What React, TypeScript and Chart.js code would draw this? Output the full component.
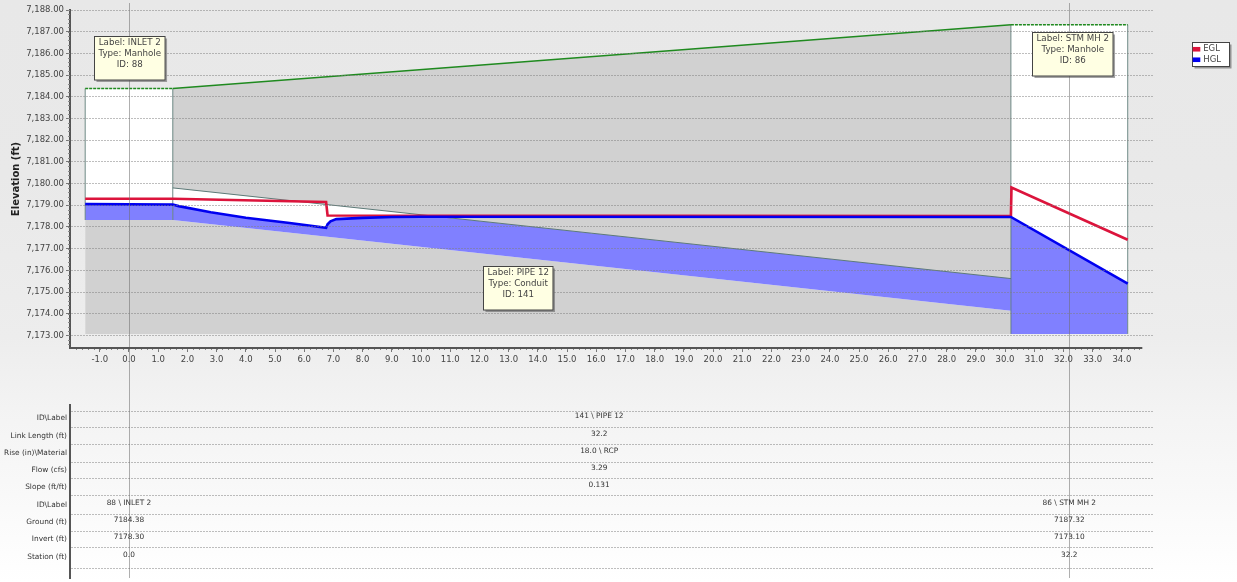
import React, { useEffect, useRef } from "react";
import { Chart, registerables } from "chart.js";

Chart.register(...registerables);

const FONT = "'DejaVu Sans', sans-serif";

const xTicks = [-1,0,1,2,3,4,5,6,7,8,9,10,11,12,13,14,15,16,17,18,19,20,21,22,23,24,25,26,27,28,29,30,31,32,33,34];
const yTicks = [7173,7174,7175,7176,7177,7178,7179,7180,7181,7182,7183,7184,7185,7186,7187,7188];

const groundStations = [-1.5, 1.5, 30.2, 34.2];
const groundElev = [7184.38, 7184.38, 7187.32, 7187.32];
const soilStations = [-1.5, 1.5, 30.2];
const soilElev = [7184.38, 7184.38, 7187.32];
const leftMhStations = [-1.5, 1.5];
const leftMhTop = [7184.38, 7184.38];
const rightMhStations = [30.2, 34.2];
const rightMhTop = [7187.32, 7187.32];
const crownStations = [1.5, 30.2];
const crownElev = [7179.8, 7175.62];
const invertElev = [7178.32, 7174.14];
const egLStations = [-1.5, 1.5, 6.75, 6.8, 30.2, 30.22, 34.2];
const eglElev = [7179.3, 7179.3, 7179.15, 7178.53, 7178.5, 7179.82, 7177.41];
const hglStations = [-1.5, 1.5, 1.7, 2.8, 4.0, 5.5, 6.75, 6.8, 6.9, 7.1, 8, 9, 10, 30.2, 34.2];
const hglElev = [7179.05, 7179.03, 7178.96, 7178.68, 7178.42, 7178.18, 7177.96, 7178.12, 7178.26, 7178.36, 7178.42, 7178.46, 7178.47, 7178.46, 7175.39];
const leftWaterStations = [-1.5, 1.5];
const leftWaterElev = [7179.05, 7179.03];
const pipeWaterStations = [1.5, 1.7, 2.8, 4.0, 5.5, 6.75, 6.8, 6.9, 7.1, 8, 9, 10, 10.7, 30.2];
const pipeWaterElev = [7179.03, 7178.96, 7178.68, 7178.42, 7178.18, 7177.96, 7178.12, 7178.26, 7178.36, 7178.42, 7178.46, 7178.47, 7178.46, 7175.62];
const rightWaterStations = [30.2, 34.2];
const rightWaterElev = [7178.46, 7175.39];
const outlineStations = [[-1.5, -1.5], [1.5, 1.5], [30.2, 30.2], [34.2, 34.2]];
const outlineElev = [[7178.32, 7184.38], [7178.32, 7184.38], [7173.07, 7187.32], [7173.07, 7187.32]];
const stationLines = [0, 32.2];

const calloutStations = [0, 13.3, 32.3];
const calloutElev = [7184.78, 7174.2, 7184.98];
const calloutLines = [
  ["Label: INLET 2", "Type: Manhole", "ID: 88"],
  ["Label: PIPE 12", "Type: Conduit", "ID: 141"],
  ["Label: STM MH 2", "Type: Manhole", "ID: 86"],
];

const rowLabels = ["ID\\Label", "Link Length (ft)", "Rise (in)\\Material", "Flow (cfs)", "Slope (ft/ft)", "ID\\Label", "Ground (ft)", "Invert (ft)", "Station (ft)"];
const pipeCells = ["141 \\ PIPE 12", "32.2", "18.0 \\ RCP", "3.29", "0.131"];
const inletCells = ["88 \\ INLET 2", "7184.38", "7178.30", "0.0"];
const outletCells = ["86 \\ STM MH 2", "7187.32", "7173.10", "32.2"];
const rowEdges = [6, 22, 39, 57, 73, 90, 109, 126, 142, 163];
const rowCenters = [11, 29, 46, 63, 80, 98, 115, 132, 150];
const labelCenters = rowCenters;

const X_MIN = -2.02;
const X_MAX = 35.1;
const AXIS_COLOR = "#555";
const TEXT = "#444";
const GRID = "rgba(125,125,125,0.5)";

const pts = (xs: number[], ys: number[]) => xs.map((x, i) => ({ x, y: ys[i] }));

function stationPlugin(top: number, bottom: number) {
  return {
    id: "stations",
    afterDatasetsDraw(chart: any) {
      const { ctx, scales } = chart;
      ctx.save();
      ctx.strokeStyle = "rgba(110,110,110,0.55)";
      ctx.lineWidth = 1;
      for (const s of stationLines) {
        const x = Math.round(scales.x.getPixelForValue(s)) + 0.5;
        ctx.beginPath();
        ctx.moveTo(x, top);
        ctx.lineTo(x, bottom);
        ctx.stroke();
      }
      ctx.restore();
    },
  };
}

const decorPlugin = {
  id: "decor",
  afterDraw(chart: any) {
    const { ctx, scales, chartArea } = chart;
    ctx.save();
    ctx.strokeStyle = "#888";
    ctx.lineWidth = 1;
    ctx.beginPath();
    for (let v = -1.8; v < 34.7; v += 0.2) {
      const x = Math.round(scales.x.getPixelForValue(v)) + 0.5;
      ctx.moveTo(x, chartArea.bottom);
      ctx.lineTo(x, chartArea.bottom + 2);
    }
    for (let v = 7172.6; v < 7188; v += 0.2) {
      const y = Math.round(scales.y.getPixelForValue(v)) + 0.5;
      ctx.moveTo(chartArea.left - 2, y);
      ctx.lineTo(chartArea.left, y);
    }
    ctx.stroke();
    ctx.strokeStyle = AXIS_COLOR;
    ctx.lineWidth = 2;
    ctx.beginPath();
    ctx.moveTo(chartArea.left - 1, chartArea.bottom);
    ctx.lineTo(scales.x.getPixelForValue(34.7), chartArea.bottom);
    ctx.stroke();
    ctx.font = `8.7px ${FONT}`;
    ctx.textAlign = "center";
    ctx.textBaseline = "middle";
    calloutLines.forEach((lines, i) => {
      const cx = scales.x.getPixelForValue(calloutStations[i]);
      const by = scales.y.getPixelForValue(calloutElev[i]);
      const w = Math.max(...lines.map((l) => ctx.measureText(l).width)) + 8;
      const h = 43.5;
      const l = Math.round(cx - w / 2) + 0.5;
      const t = Math.round(by - h) + 0.5;
      ctx.fillStyle = "rgba(90,90,90,0.55)";
      ctx.fillRect(l + 2, t + 2, w, h);
      ctx.fillStyle = "#ffffe3";
      ctx.fillRect(l, t, w, h);
      ctx.strokeStyle = "#444";
      ctx.lineWidth = 1;
      ctx.strokeRect(l, t, w, h);
      ctx.fillStyle = TEXT;
      lines.forEach((line, k) => ctx.fillText(line, l + w / 2, t + 6.5 + k * 10.8));
    });
    ctx.restore();
  },
};

const legendPlugin = {
  id: "legendBox",
  afterLayout(chart: any) {
    const lg = chart.legend;
    const dx = 1192 - lg.left;
    const dy = 43 - lg.top;
    lg.left += dx;
    lg.top += dy;
    lg.right = 1229;
    lg.bottom = 66;
    lg.adjustHitBoxes();
  },
  beforeDraw(chart: any) {
    const { ctx } = chart;
    ctx.save();
    ctx.fillStyle = "rgba(90,90,90,0.6)";
    ctx.fillRect(1194.5, 44.5, 37, 24);
    ctx.fillStyle = "#fff";
    ctx.fillRect(1192.5, 42.5, 37, 24);
    ctx.strokeStyle = "#444";
    ctx.lineWidth = 1;
    ctx.strokeRect(1192.5, 42.5, 37, 24);
    ctx.restore();
  },
};

const tablePlugin = {
  id: "tableCells",
  afterDatasetsDraw(chart: any) {
    const { ctx, scales } = chart;
    ctx.save();
    ctx.font = `7.4px ${FONT}`;
    ctx.fillStyle = "#333";
    ctx.textAlign = "center";
    ctx.textBaseline = "middle";
    const pipeMid = (stationLines[0] + stationLines[1]) / 2;
    pipeCells.forEach((t, i) => ctx.fillText(t, scales.x.getPixelForValue(pipeMid), scales.y.getPixelForValue(rowCenters[i])));
    inletCells.forEach((t, i) => ctx.fillText(t, scales.x.getPixelForValue(stationLines[0]), scales.y.getPixelForValue(rowCenters[i + 5])));
    outletCells.forEach((t, i) => ctx.fillText(t, scales.x.getPixelForValue(stationLines[1]), scales.y.getPixelForValue(rowCenters[i + 5])));
    ctx.restore();
  },
};

export default function App() {
  const topRef = useRef<HTMLCanvasElement>(null);
  const botRef = useRef<HTMLCanvasElement>(null);

  useEffect(() => {
    const hidden = { pointRadius: 0, borderWidth: 0, borderColor: "transparent", tension: 0 };
    const datasets: any[] = [
      { label: "Soil", data: pts(soilStations, soilElev), ...hidden, fill: { value: 7173.07 }, backgroundColor: "#d1d1d1" },
      { label: "MH1", data: pts(leftMhStations, leftMhTop), ...hidden, fill: { value: 7178.32 }, backgroundColor: "#ffffff" },
      { label: "MH2", data: pts(rightMhStations, rightMhTop), ...hidden, fill: { value: 7173.07 }, backgroundColor: "#ffffff" },
      { label: "Invert", data: pts(crownStations, invertElev), ...hidden, fill: false },
      { label: "Pipe", data: pts(crownStations, crownElev), ...hidden, fill: { target: 3 }, backgroundColor: "#ffffff" },
      { label: "W1", data: pts(leftWaterStations, leftWaterElev), ...hidden, fill: { value: 7178.32 }, backgroundColor: "#8080ff" },
      { label: "W2", data: pts(pipeWaterStations, pipeWaterElev), ...hidden, fill: { target: 3 }, backgroundColor: "#8080ff" },
      { label: "W3", data: pts(rightWaterStations, rightWaterElev), ...hidden, fill: { value: 7173.07 }, backgroundColor: "#8080ff" },
      { label: "Crown", data: pts(crownStations, crownElev), pointRadius: 0, borderWidth: 1, borderColor: "#5d7a78", fill: false },
      ...outlineStations.map((xs, i) => ({
        label: `Wall${i}`,
        data: pts(xs, outlineElev[i]),
        pointRadius: 0,
        borderWidth: 1,
        borderColor: "rgba(80,115,110,0.8)",
        fill: false,
      })),
      {
        label: "Ground",
        data: pts(groundStations, groundElev),
        pointRadius: 0,
        borderWidth: 1.5,
        borderColor: "#1f8a1f",
        fill: false,
        segment: {
          borderDash: (c: any) => (c.p0.parsed.x < 0 || c.p0.parsed.x > 30 ? [3, 1] : undefined),
        },
      },
      { label: "EGL", data: pts(egLStations, eglElev), pointRadius: 0, borderWidth: 2.6, borderColor: "#dc143c", backgroundColor: "#dc143c", fill: false },
      { label: "HGL", data: pts(hglStations, hglElev), pointRadius: 0, borderWidth: 2.6, borderColor: "#0000f0", backgroundColor: "#0000f0", fill: false },
    ];
    datasets.forEach((d, i) => (d.order = datasets.length - i));

    const top = new Chart(topRef.current!, {
      type: "line",
      data: { datasets },
      options: {
        animation: false,
        responsive: false,
        layout: { padding: { top: 10, right: 83, left: 10, bottom: 0 } },
        plugins: {
          tooltip: { enabled: false },
          title: { display: false },
          legend: {
            position: "chartArea" as any,
            align: "start",
            labels: {
              filter: (it: any) => it.text === "EGL" || it.text === "HGL",
              sort: (a: any, b: any) => a.text.localeCompare(b.text),
              boxWidth: 5,
              boxHeight: 2,
              padding: 2,
              color: TEXT,
              font: { family: FONT, size: 8.5 },
            },
          },
        },
        scales: {
          x: {
            type: "linear",
            min: X_MIN,
            max: X_MAX,
            afterFit: (s: any) => { s.height = 47; },
            afterBuildTicks: (s: any) => { s.ticks = xTicks.map((value) => ({ value })); },
            grid: { display: true, drawOnChartArea: false, drawTicks: true, tickLength: 4, tickColor: "#777", color: "#777" },
            border: { display: false },
            ticks: {
              autoSkip: false,
              maxRotation: 0,
              padding: 3,
              color: TEXT,
              font: { family: FONT, size: 8.5 },
              callback: (v: any) => Number(v).toFixed(1),
            },
          },
          y: {
            type: "linear",
            min: 7172.42,
            max: 7188,
            afterFit: (s: any) => { s.width = 60; },
            afterBuildTicks: (s: any) => { s.ticks = yTicks.map((value) => ({ value })); },
            grid: { z: 1, color: GRID, lineWidth: 1, tickLength: 4, tickColor: "#777", tickBorderDash: [] },
            border: { display: true, color: AXIS_COLOR, width: 2, dash: [2, 1], z: 2 },
            title: { display: true, text: "Elevation (ft)", color: "#222", font: { family: FONT, size: 10, weight: "bold" }, padding: 0 },
            ticks: {
              autoSkip: false,
              padding: 2,
              color: TEXT,
              font: { family: FONT, size: 8.5 },
              callback: (v: any) => Number(v).toLocaleString("en-US", { minimumFractionDigits: 2, maximumFractionDigits: 2 }),
            },
          },
        },
      } as any,
      plugins: [stationPlugin(3, 395), decorPlugin, legendPlugin],
    });

    const bottom = new Chart(botRef.current!, {
      type: "line",
      data: { datasets: [] },
      options: {
        animation: false,
        responsive: false,
        layout: { padding: { top: 10, right: 83, left: 0, bottom: 4 } },
        plugins: { legend: { display: false }, tooltip: { enabled: false } },
        scales: {
          x: { type: "linear", min: X_MIN, max: X_MAX, display: false },
          y: {
            type: "linear",
            reverse: true,
            min: 0,
            max: 173,
            afterFit: (s: any) => { s.width = 70; s.paddingTop = 0; s.paddingBottom = 0; },
            afterBuildTicks: (s: any) => {
              s.ticks = [...rowEdges, ...labelCenters].sort((a, b) => a - b).map((value) => ({ value }));
            },
            grid: {
              drawTicks: false,
              color: GRID,
              lineWidth: (c: any) => (rowEdges.includes(c.tick?.value) ? 1 : 0),
            },
            border: { display: true, color: AXIS_COLOR, width: 2, dash: [2, 1] },
            ticks: {
              autoSkip: false,
              padding: 3,
              labelOffset: 2,
              color: "#333",
              font: { family: FONT, size: 7.4 },
              callback: (v: any) => {
                const i = labelCenters.indexOf(Number(v));
                return i >= 0 ? rowLabels[i] : "";
              },
            },
          },
        },
      } as any,
      plugins: [stationPlugin(0, 183), tablePlugin],
    });

    return () => {
      top.destroy();
      bottom.destroy();
    };
  }, []);

  return (
    <div
      style={{
        position: "absolute",
        left: 0,
        top: 0,
        width: 1237,
        height: 582,
        overflow: "hidden",
        background: "linear-gradient(#e8e8e8 0%, #e9e9e9 30%, #ededed 58%, #f3f3f3 70%, #ffffff 100%)",
      }}
    >
      <canvas ref={topRef} width={1237} height={395} style={{ position: "absolute", left: 0, top: 0, width: 1237, height: 395 }} />
      <canvas ref={botRef} width={1237} height={187} style={{ position: "absolute", left: 0, top: 395, width: 1237, height: 187 }} />
    </div>
  );
}
